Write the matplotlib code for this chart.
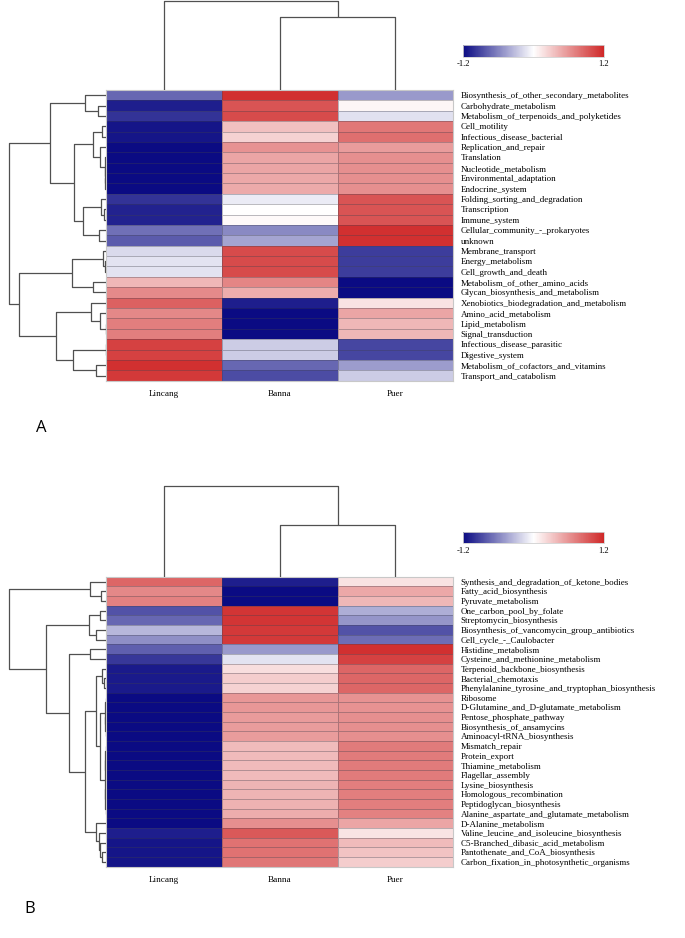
import numpy as np
import matplotlib
matplotlib.use('Agg')
import matplotlib.pyplot as plt
from matplotlib.colors import LinearSegmentedColormap, Normalize
from matplotlib.cm import ScalarMappable

W, H = 685, 938

samples = ['Lincang', 'Banna', 'Puer']

# ---- panel A (KEGG level 2) ----
rows_a = ['Biosynthesis_of_other_secondary_metabolites', 'Carbohydrate_metabolism',
          'Metabolism_of_terpenoids_and_polyketides', 'Cell_motility',
          'Infectious_disease_bacterial', 'Replication_and_repair', 'Translation',
          'Nucleotide_metabolism', 'Environmental_adaptation', 'Endocrine_system',
          'Folding_sorting_and_degradation', 'Transcription', 'Immune_system',
          'Cellular_community_-_prokaryotes', 'unknown', 'Membrane_transport',
          'Energy_metabolism', 'Cell_growth_and_death', 'Metabolism_of_other_amino_acids',
          'Glycan_biosynthesis_and_metabolism', 'Xenobiotics_biodegradation_and_metabolism',
          'Amino_acid_metabolism', 'Lipid_metabolism', 'Signal_transduction',
          'Infectious_disease_parasitic', 'Digestive_system',
          'Metabolism_of_cofactors_and_vitamins', 'Transport_and_catabolism']
lincang_a = [-0.75, -1.1, -1.0, -1.15, -1.15, -1.2, -1.2, -1.2, -1.2, -1.2,
             -1.0, -1.08, -1.08, -0.7, -0.8, -0.18, -0.14, -0.14, 0.4, 0.65,
             0.88, 0.66, 0.72, 0.72, 1.05, 1.05, 1.15, 1.1]
banna_a = [1.15, 0.95, 1.0, 0.35, 0.25, 0.6, 0.5, 0.5, 0.48, 0.47,
           -0.1, 0.0, 0.03, -0.58, -0.45, 1.0, 1.0, 1.0, 0.68, 0.45,
           -1.1, -1.2, -1.2, -1.2, -0.25, -0.25, -0.75, -0.88]
puer_a = [-0.5, 0.05, -0.15, 0.75, 0.8, 0.55, 0.62, 0.62, 0.62, 0.62,
          0.95, 0.95, 0.95, 1.15, 1.15, -0.95, -0.95, -0.95, -1.2, -1.2,
          0.15, 0.5, 0.4, 0.4, -0.9, -0.9, -0.48, -0.25]

# row tree: (left, right, merge height in px from heatmap edge)
tree_rows_a = (
    ((0, (1, 2, 8.3), 20.7),
     (((3, 4, 4.0), (5, (6, (7, (8, 9, 0.7), 1.0), 1.3), 6.3), 13.0),
      ((10, (11, 12, 1.7), 4.7), (13, 14, 6.7), 23.0), 32.3), 55.7),
    (((15, (16, 17, 0.7), 3.0), (18, 19, 13.3), 34.0),
     ((20, (21, (22, 23, 0.5), 5.7), 15.0), ((24, 25, 0.5), (26, 27, 10.0), 33.0), 49.7),
     86.7),
    97.3)
tree_cols_a = (0, (1, 2, 72.7), 89.0)

# ---- panel B (KEGG level 3) ----
rows_b = ['Synthesis_and_degradation_of_ketone_bodies', 'Fatty_acid_biosynthesis',
          'Pyruvate_metabolism', 'One_carbon_pool_by_folate', 'Streptomycin_biosynthesis',
          'Biosynthesis_of_vancomycin_group_antibiotics', 'Cell_cycle_-_Caulobacter',
          'Histidine_metabolism', 'Cysteine_and_methionine_metabolism',
          'Terpenoid_backbone_biosynthesis', 'Bacterial_chemotaxis',
          'Phenylalanine_tyrosine_and_tryptophan_biosynthesis', 'Ribosome',
          'D-Glutamine_and_D-glutamate_metabolism', 'Pentose_phosphate_pathway',
          'Biosynthesis_of_ansamycins', 'Aminoacyl-tRNA_biosynthesis', 'Mismatch_repair',
          'Protein_export', 'Thiamine_metabolism', 'Flagellar_assembly',
          'Lysine_biosynthesis', 'Homologous_recombination', 'Peptidoglycan_biosynthesis',
          'Alanine_aspartate_and_glutamate_metabolism', 'D-Alanine_metabolism',
          'Valine_leucine_and_isoleucine_biosynthesis', 'C5-Branched_dibasic_acid_metabolism',
          'Pantothenate_and_CoA_biosynthesis', 'Carbon_fixation_in_photosynthetic_organisms']
lincang_b = [0.85, 0.66, 0.7, -0.85, -0.75, -0.35, -0.55, -0.78, -0.98, -1.12,
             -1.12, -1.12, -1.2, -1.2, -1.2, -1.2, -1.2, -1.2, -1.2, -1.2,
             -1.2, -1.2, -1.2, -1.2, -1.2, -1.2, -1.1, -1.15, -1.15, -1.15]
banna_b = [-1.1, -1.2, -1.2, 1.12, 1.12, 1.1, 1.1, -0.5, -0.14, 0.18,
           0.28, 0.25, 0.58, 0.58, 0.56, 0.55, 0.55, 0.38, 0.38, 0.38,
           0.38, 0.42, 0.42, 0.43, 0.45, 0.62, 0.92, 0.78, 0.78, 0.76]
puer_b = [0.15, 0.48, 0.4, -0.4, -0.52, -0.85, -0.72, 1.15, 1.05, 0.85,
          0.85, 0.85, 0.6, 0.6, 0.62, 0.62, 0.62, 0.74, 0.74, 0.74,
          0.74, 0.72, 0.72, 0.72, 0.7, 0.5, 0.15, 0.38, 0.33, 0.28]

tree_rows_b = (
    (0, (1, 2, 5.0), 15.7),
    (((3, 4, 5.7), (5, 6, 9.7), 17.3),
     ((7, 8, 16.3),
      (((9, (10, 11, 2.3), 4.0),
        (((12, 13, 0.3), (14, (15, 16, 0.3), 0.6), 1.2),
         (((17, 18, 0.3), (19, 20, 0.3), 0.7), ((21, 22, 0.3), (23, 24, 0.5), 0.9), 1.5),
         6.3), 10.0),
       (25, (26, (27, (28, 29, 4.0), 5.7), 7.3), 10.0), 20.7), 37.3),
     59.7),
    97.3)
tree_cols_b = (0, (1, 2, 51.4), 90.7)

cmap = LinearSegmentedColormap.from_list('bwr2', ['#0b0b83', '#ffffff', '#cf2828'])
norm = Normalize(vmin=-1.2, vmax=1.2)

plt.rcParams['font.family'] = ['Liberation Serif', 'DejaVu Serif']

fig = plt.figure(figsize=(W / 100, H / 100), dpi=100)


def px_axes(x0, y0, x1, y1):
    return fig.add_axes([x0 / W, 1 - y1 / H, (x1 - x0) / W, (y1 - y0) / H])


def draw_tree(ax, node, orient):
    if isinstance(node, int):
        return node + 0.5, 0.0
    a, b, h = node
    pa, ha = draw_tree(ax, a, orient)
    pb, hb = draw_tree(ax, b, orient)
    pos = [pa, pa, pb, pb]
    hts = [ha, h, h, hb]
    if orient == 'top':
        ax.plot(pos, hts, color='#505050', lw=0.9, solid_capstyle='butt')
    else:
        ax.plot(hts, pos, color='#505050', lw=0.9, solid_capstyle='butt')
    return (pa + pb) / 2, h


def panel(top, bottom, rows, cols_vals, tree_rows, tree_cols, letter, letter_xy):
    n = len(rows)
    left, right = 106, 453.3
    data = np.column_stack(cols_vals)

    ax = px_axes(left, top, right, bottom)
    ax.pcolormesh(data, cmap=cmap, norm=norm, edgecolors=(0.25, 0.25, 0.3, 0.35), linewidth=0.5)
    ax.set_xlim(0, 3)
    ax.set_ylim(n, 0)
    ax.yaxis.tick_right()
    ax.set_yticks(np.arange(n) + 0.5, rows, fontsize=6.5)
    ax.set_xticks(np.arange(3) + 0.5, samples, fontsize=6.6)
    ax.tick_params(length=0)
    ax.tick_params(axis='y', pad=5.3)
    ax.tick_params(axis='x', pad=6.5)
    for s in ax.spines.values():
        s.set_color('#c8c8c8')
        s.set_linewidth(0.8)

    # column dendrogram
    axt = px_axes(left, top - 100, right, top)
    draw_tree(axt, tree_cols, 'top')
    axt.set_xlim(0, 3)
    axt.set_ylim(0, 100)
    axt.axis('off')

    # row dendrogram
    axl = px_axes(0, top, left, bottom)
    draw_tree(axl, tree_rows, 'left')
    axl.set_xlim(left, 0)
    axl.set_ylim(n, 0)
    axl.axis('off')

    # colour key
    cax = px_axes(463.3, top - 45, 604, top - 33.3)
    cb = fig.colorbar(ScalarMappable(norm=norm, cmap=cmap), cax=cax,
                      orientation='horizontal', ticks=[-1.2, 1.2])
    cb.ax.set_xticklabels(['-1.2', '1.2'])
    cb.ax.tick_params(length=0, labelsize=6.2, pad=2.5)
    cb.outline.set_edgecolor('#d0d0d0')
    cb.outline.set_linewidth(0.6)

    fig.text(letter_xy[0] / W, 1 - letter_xy[1] / H, letter, fontsize=12,
             family='Open Sans', ha='center', va='baseline')


panel(90, 380.7, rows_a, [lincang_a, banna_a, puer_a], tree_rows_a, tree_cols_a, 'A', (41, 432.3))
panel(576.7, 866.7, rows_b, [lincang_b, banna_b, puer_b], tree_rows_b, tree_cols_b, 'B', (30, 913.3))

fig.savefig('out.png', dpi=100, facecolor='white')
